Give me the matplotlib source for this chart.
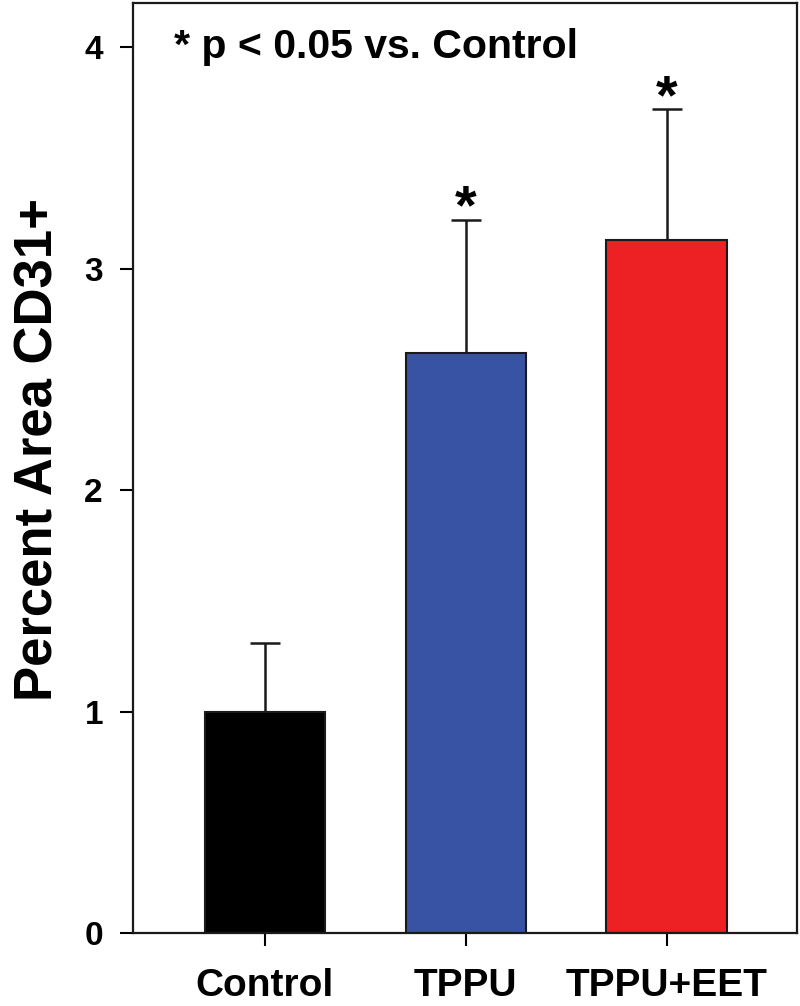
"""Percent area CD31+ bar chart with one-sided error bars."""

import matplotlib

matplotlib.use("Agg")
import matplotlib.pyplot as plt

groups = ["Control", "TPPU", "TPPU+EET"]
means = [1.00, 2.62, 3.13]
errors = [0.31, 0.60, 0.59]
colors = ["#000000", "#3953a4", "#ed2024"]
significant = [False, True, True]

plt.rcParams["font.family"] = ["Liberation Sans", "DejaVu Sans"]
plt.rcParams["font.weight"] = "bold"

fig = plt.figure(figsize=(8.0, 10.06), dpi=100)
ax = fig.add_axes([0.166, 0.0726, 0.83, 0.9244])

x = list(range(len(groups)))
ax.bar(x, means, width=0.6, color=colors, edgecolor="#1a1a1a", linewidth=1.5, zorder=2)
ax.errorbar(x, means, yerr=[[0] * len(errors), errors], fmt="none",
            ecolor="#1a1a1a", elinewidth=1.8, capsize=10.5, capthick=1.8, zorder=1)

# significance stars just above the caps
for xi, m, e, sig in zip(x, means, errors, significant):
    if sig:
        ax.text(xi, m + e - 0.07, "*", ha="center", va="bottom", fontsize=40, fontweight="bold")

ax.text(-0.45, 4.0, "* p < 0.05 vs. Control", ha="left", va="center", fontsize=29.5, fontweight="bold")

ax.set_xlim(-0.657, 2.647)
ax.set_ylim(0, 4.2)
ax.set_yticks([0, 1, 2, 3, 4])
ax.set_xticks(x)
ax.set_xticklabels(groups, fontsize=28, fontweight="bold")
ax.tick_params(axis="y", labelsize=24, length=9.5, width=1.5, pad=12)
ax.tick_params(axis="x", length=9.5, width=1.5, pad=16)
for lbl in ax.get_yticklabels():
    lbl.set_fontweight("bold")
for spine in ax.spines.values():
    spine.set_linewidth(1.6)
    spine.set_color("#1a1a1a")

ax.set_ylabel("Percent Area CD31+", fontsize=38, fontweight="bold")
ax.yaxis.set_label_coords(-0.105, 0.52)

fig.savefig("out.png", dpi=100)
